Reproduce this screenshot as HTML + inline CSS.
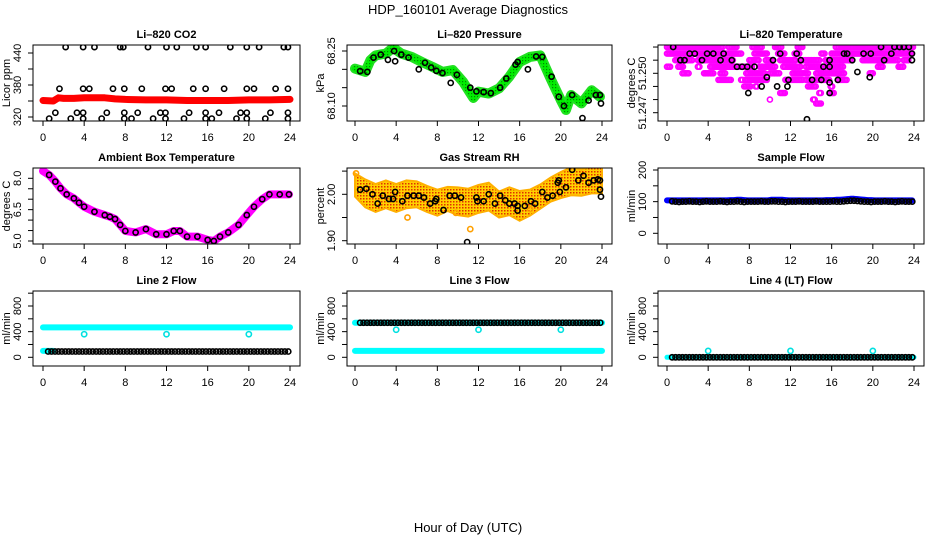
<!DOCTYPE html>
<html><head><meta charset="utf-8"><style>
html,body{margin:0;padding:0;background:#fff;}
svg{display:block;font-family:"Liberation Sans",sans-serif;}
</style></head><body>
<svg id="c" width="936" height="540" viewBox="0 0 936 540">
<defs>
<pattern id="rhpat" width="3" height="3" patternUnits="userSpaceOnUse">
<rect width="3" height="3" fill="#ffd000"/><rect x="0" y="0" width="1.5" height="1.5" fill="#e03000"/>
</pattern>
<pattern id="grpat" width="3" height="3" patternUnits="userSpaceOnUse">
<rect width="3" height="3" fill="#00ee00"/><rect x="0" y="0" width="1.2" height="1.2" fill="#008800"/>
</pattern>
</defs>
<text x="468" y="14" text-anchor="middle" font-size="13">HDP_160101  Average Diagnostics</text>
<text x="468" y="532" text-anchor="middle" font-size="13">Hour of Day (UTC)</text>
</svg>
<script>
// ---------- data ----------
const xTicks=[0,4,8,12,16,20,24];
// CO2
const co2BandHours=[0,1,1.5,2,3,4,5,6,7,8,10,12,14,16,18,20,22,24];
const co2BandVals=[351,350,356,355,355,356,356,356,354,353,352,352,351,351,351,352,352,353];
const co2Hi=[2.2,3.9,5,7.5,7.8,10.2,12,13,14.9,15.8,18.2,19.8,21,23.4,23.8];
const co2Mid=[1.6,3.9,4.5,6.8,7.9,9.6,11.9,12.5,14.6,15.8,17.6,19.8,20.5,22.6,23.8];
const co2Lo=[1.2,3.3,3.9,6.2,7.9,9.2,11.4,11.9,14.2,15.8,17.1,19.2,19.8,22.1,23.8];
const co2Lo2=[0.6,2.7,3.9,5.7,7.9,8.6,10.7,11.9,13.7,15.8,16.4,18.8,19.8,21.6,23.8];
const co2HiVal=451, co2MidVal=373, co2LoVal=328, co2Lo2Val=317;
// Pressure
const presHours=[0,1,1.5,2,3,3.7,4.5,5.5,6.5,7.5,8.5,9.5,10.5,11.5,12,13,14,15,16,17,18,19,20,20.5,21,22,23,23.8];
const presVals=[68.202,68.193,68.225,68.238,68.243,68.259,68.243,68.234,68.220,68.207,68.193,68.198,68.166,68.122,68.139,68.134,68.148,68.180,68.220,68.234,68.238,68.175,68.116,68.089,68.130,68.107,68.143,68.125];
const presBlkH=[0.5,1.2,1.8,2.5,3.2,3.8,3.9,4.5,5.2,6.2,6.8,7.4,7.9,8.5,9.3,9.9,11.2,11.8,12.5,13.2,14.1,14.7,15.6,15.8,16.8,17.6,18.2,19.1,19.8,20.3,21.1,22.1,22.7,23.4,23.8,23.9];
const presBlkV=[68.195,68.193,68.232,68.240,68.226,68.250,68.222,68.240,68.232,68.200,68.218,68.205,68.196,68.190,68.163,68.185,68.150,68.140,68.138,68.135,68.150,68.175,68.213,68.220,68.200,68.235,68.234,68.180,68.125,68.100,68.130,68.067,68.115,68.130,68.130,68.107];
// Temperature: levels and hour ranges
const tempLevels=[51.2520,51.2515,51.2510,51.2505,51.2500,51.2495,51.2490,51.2485,51.2480,51.2477];
const tempRanges=[
 [[0,5.5],[6,6.8],[8.3,9.2],[10.5,11.2],[12.7,13.2],[16.4,24]],
 [[0,7.2],[8.5,9.8],[10.8,11.5],[12.4,12.9],[15,15.4],[16,23.9]],
 [[0.8,2.5],[3,5],[5.5,6.5],[8,9],[9.6,10.2],[11,12.5],[13,14.8],[15.4,18],[19,22.5],[23,23.5]],
 [[0,0.4],[1.1,1.6],[3,3.2],[4.2,8.3],[9,10.5],[11.3,13],[13.5,17.2],[20.5,21],[22.5,23]],
 [[1.5,2.2],[3.6,4.5],[5.2,5.7],[7.7,9.5],[10,11],[12.2,13.8],[14.5,17.3],[19.7,20]],
 [[5,6.3],[7.2,7.4],[7.6,9.7],[11.5,13.2],[13.5,15.8],[16.7,17.5]],
 [[7.5,8.2],[8.6,8.8],[13.7,14.5],[15.9,16.1]],
 [[11,11.5],[14.8,15],[15.9,16.2]],
 [[14.2,14.4],[10,10.1]],
 [[14.5,15]]];
const tempBlkH=[0.6,2.2,2.7,1.3,1.7,3.4,3.9,4.5,5.5,5.2,6.3,6.8,7.3,7.8,8.5,7.9,9.2,10.3,11,9.7,10.7,11.8,11.7,12.6,13,13.6,14.1,15,15.2,15.8,15.8,15.8,15.8,16.6,17.2,17.5,18,18.5,19.7,19.1,19.8,20.8,21.1,21.8,22.1,22.6,23,23.5,23.8,23.8];
const tempBlkV=[51.252,51.2515,51.2515,51.251,51.251,51.251,51.2515,51.2515,51.2515,51.251,51.251,51.2505,51.2505,51.2505,51.2505,51.2485,51.249,51.251,51.2515,51.2497,51.249,51.2495,51.249,51.2515,51.251,51.2465,51.2495,51.2495,51.2505,51.2505,51.251,51.2493,51.2485,51.2495,51.2515,51.2515,51.251,51.2501,51.2497,51.2515,51.2515,51.252,51.251,51.2515,51.252,51.252,51.252,51.252,51.2515,51.251];
// Ambient box temperature
const ambHours=[0,0.6,1.2,1.7,2.3,3,3.5,4,5,6,6.5,7,7.5,8,9,10,11,12,12.7,13.3,14,15,16,16.6,17.2,18,19,19.8,20.5,21.3,22,23,23.9];
const ambVals=[8.35,8.16,7.84,7.52,7.23,7.04,6.83,6.64,6.40,6.24,6.16,6.05,5.77,5.48,5.41,5.57,5.32,5.32,5.48,5.48,5.21,5.21,5.05,5.00,5.21,5.41,5.77,6.24,6.64,7.00,7.23,7.23,7.23];
// Gas stream RH
const rhHours=[0,1,2,3,4,5,6,7,8,9,10,11,12,13,14,15,16,17,18,19,20,21,22,23,24];
const rhCenter=[2.020,2.002,1.992,2.000,1.992,2.000,2.000,1.990,1.982,1.990,1.985,1.982,1.990,1.995,1.978,1.985,1.975,1.982,1.995,2.010,2.020,2.028,2.025,2.032,2.030];
const rhHalf=[0.025,0.030,0.030,0.030,0.030,0.030,0.028,0.028,0.028,0.026,0.030,0.030,0.030,0.030,0.028,0.030,0.032,0.028,0.026,0.026,0.028,0.030,0.028,0.030,0.028];
const rhBlkH=[0.5,1.1,1.7,2.2,2.7,3.3,3.7,3.9,4.6,5.1,5.7,6.2,6.7,7.3,7.8,7.9,8.6,9.2,9.7,10.3,10.9,11.8,11.9,12.5,13,13.6,14.1,14.6,15,15.5,15.8,15.8,16.5,17.1,17.5,18.2,18.7,19.2,19.7,19.8,19.9,20.5,21.1,21.7,22.2,22.7,23.2,23.6,23.8,23.8,23.9];
const rhBlkV=[2.010,2.012,2.000,1.980,1.997,1.990,1.990,2.005,1.985,1.997,1.997,1.997,1.993,1.980,1.985,1.990,1.966,1.997,1.997,1.993,1.897,1.993,1.985,1.985,2.000,1.980,1.997,1.987,1.980,1.980,1.965,1.975,1.975,1.985,1.980,2.005,1.993,1.997,2.025,2.030,2.005,2.015,2.053,2.030,2.040,2.025,2.030,2.032,2.030,2.010,1.995];
const rhOutH=[5.1,11.2,17,9.8,0.1];
const rhOutV=[1.950,1.925,1.968,1.960,2.045];
// Flows (circles every ~1/3 hour)
const flowHours=[0.5,0.83,1.17,1.5,1.83,2.17,2.5,2.83,3.17,3.5,3.83,4.17,4.5,4.83,5.17,5.5,5.83,6.17,6.5,6.83,7.17,7.5,7.83,8.17,8.5,8.83,9.17,9.5,9.83,10.17,10.5,10.83,11.17,11.5,11.83,12.17,12.5,12.83,13.17,13.5,13.83,14.17,14.5,14.83,15.17,15.5,15.83,16.17,16.5,16.83,17.17,17.5,17.83,18.17,18.5,18.83,19.17,19.5,19.83,20.17,20.5,20.83,21.17,21.5,21.83,22.17,22.5,22.83,23.17,23.5,23.83];
const sampleBand=[104,104,104,104,104,104,104,104,104,104,104,104,104,104,104,104,104,105,105,106,106,105,104,104,104,104,104,104,104,106,106,106,106,105,104,104,104,104,104,104,104,104,104,104,104,105,105,105,106,106,107,108,109,109,108,107,106,105,105,104,104,104,104,104,104,104,104,104,104,104,104];
const sampleBlk=[101,100,99,100,100,101,100,100,99,100,101,100,100,100,101,100,99,100,100,101,100,99,100,100,100,100,101,100,100,101,101,100,100,99,100,100,100,101,100,100,100,100,101,100,100,100,100,101,100,100,101,102,103,103,102,101,100,100,99,100,100,100,101,100,100,99,100,101,100,100,100];
const line2Band=466, line2BandLow=100, line2Blk=90, line2Out=[4,12,20], line2OutVal=360;
const line3Band=100, line3Blk=539, line3Out=[4,12,20], line3OutVal=430;
const line4Blk=0, line4Out=[4,12,20], line4OutVal=100;

// ---------- helpers ----------
const svg=document.getElementById('c');
const NS='http://www.w3.org/2000/svg';
function mk(tag,attrs,parent){const e=document.createElementNS(NS,tag);for(const k in attrs)e.setAttribute(k,attrs[k]);(parent||svg).appendChild(e);return e;}
function makePanel(name,title,box,x0,x1,v0,y0,v1,y1,yticks,ylabels,ytitle){
  const g=mk('g',{});
  
  
  const P={g,box,sx:h=>x0+(x1-x0)*h/24,sy:v=>y0+(y1-y0)*(v-v0)/(v1-v0)};
  const cl=mk('clipPath',{id:'clip-'+name},g);
  mk('rect',{x:box[0],y:box[1],width:box[2]-box[0],height:box[3]-box[1]},cl);
  P.plot=mk('g',{'clip-path':'url(#clip-'+name+')'},g);
  
  
  const fr=mk('rect',{x:box[0],y:box[1],width:box[2]-box[0],height:box[3]-box[1],fill:'none',stroke:'#000','stroke-width':1},g);
  
  
  const t=mk('text',{x:(box[0]+box[2])/2,y:box[1]-7,'text-anchor':'middle','font-size':11,'font-weight':'bold'},g);
  t.textContent=title;
  
  
  const xa=mk('g',{},g);
  
  
  xTicks.forEach(h=>{const x=P.sx(h);
    mk('line',{x1:x,x2:x,y1:box[3],y2:box[3]+5,stroke:'#000'},xa);
    const l=mk('text',{x:x,y:box[3]+20,'text-anchor':'middle','font-size':11},xa);l.textContent=h;
    
    });
  const ya=mk('g',{},g);
  
  
  yticks.forEach((v,i)=>{const y=P.sy(v);
    mk('line',{x1:box[0]-5,x2:box[0],y1:y,y2:y,stroke:'#000'},ya);
    if(ylabels[i]!==''){const l=mk('text',{x:0,y:0,transform:'translate('+(box[0]-12)+','+y+') rotate(-90)','text-anchor':'middle','font-size':11},ya);l.textContent=ylabels[i];
    
    }});
  const yt=mk('text',{x:0,y:0,transform:'translate('+(box[0]-23)+','+((box[1]+box[3])/2)+') rotate(-90)','text-anchor':'middle','font-size':11},g);
  yt.textContent=ytitle;
  
  
  return P;
}
function circ(P,h,v,col,nm,r){const c=mk('circle',{cx:P.sx(h),cy:P.sy(v),r:r||2.6,fill:'none',stroke:col,'stroke-width':1.6},P.plot);
  
  return c;}
function band(P,hs,vs,col,w,nm){const pts=hs.map((h,i)=>P.sx(h)+','+P.sy(vs[i])).join(' ');
  const p=mk('polyline',{points:pts,fill:'none',stroke:col,'stroke-width':w,'stroke-linejoin':'round','stroke-linecap':'round'},P.plot);
  
  return p;}
function hband(P,h0,h1,v,col,w,nm){const p=mk('line',{x1:P.sx(h0),x2:P.sx(h1),y1:P.sy(v),y2:P.sy(v),stroke:col,'stroke-width':w,'stroke-linecap':'round'},P.plot);
  
  return p;}

const R1=[45,121],R2=[168,244],R3=[291,366];
const C1=[33,300,43,290],C2=[347,612,355,602],C3=[658,924,667,914];

// ---- CO2 ----
let P=makePanel('co2-panel','Li\u2013820 CO2',[C1[0],R1[0],C1[1],R1[1]],C1[2],C1[3],320,117,440,53,[320,350,380,410,440],['320','','380','','440'],'Licor ppm');
band(P,co2BandHours,co2BandVals,'#ff0000',7,'co2-red-series');
co2Hi.forEach(h=>circ(P,h,co2HiVal,'#000','co2-point'));
co2Mid.forEach(h=>circ(P,h,co2MidVal,'#000','co2-point'));
co2Lo.forEach(h=>circ(P,h,co2LoVal,'#000','co2-point'));
co2Lo2.forEach(h=>circ(P,h,co2Lo2Val,'#000','co2-point'));
// ---- Pressure ----
P=makePanel('pressure-panel','Li\u2013820 Pressure',[C2[0],R1[0],C2[1],R1[1]],C2[2],C2[3],68.10,106,68.25,51,[68.10,68.15,68.20,68.25],['68.10','','','68.25'],'kPa');
band(P,presHours,presVals,'#22e022',10,'pressure-green-series');
band(P,presHours,presVals,'url(#grpat)',6,'pressure-green-texture');
presBlkH.forEach((h,i)=>circ(P,h,presBlkV[i],'#000','pressure-point'));
// ---- Temperature ----
P=makePanel('temperature-panel','Li\u2013820 Temperature',[C3[0],R1[0],C3[1],R1[1]],C3[2],C3[3],51.247,112.7,51.250,73.3,[51.247,51.248,51.249,51.250,51.251,51.252],['51.247','','','51.250','',''],'degrees C');
tempLevels.forEach((lv,i)=>tempRanges[i].forEach(r=>{
  for(let h=r[0];h<=r[1]+1e-9;h+=0.15){circ(P,h,lv,'#ff00ff','temperature-magenta-point',2.5);}
}));
tempBlkH.forEach((h,i)=>circ(P,h,tempBlkV[i],'#000','temperature-point'));
// ---- Ambient ----
P=makePanel('ambient-panel','Ambient Box Temperature',[C1[0],R2[0],C1[1],R2[1]],C1[2],C1[3],5.0,241,8.0,178.3,[5.0,5.5,6.0,6.5,7.0,7.5,8.0],['5.0','','','6.5','','','8.0'],'degrees C');
band(P,ambHours,ambVals,'#ff00ff',8,'ambient-magenta-series');
ambHours.forEach((h,i)=>{if(i>0)circ(P,h,ambVals[i],'#000','ambient-point');});
// ---- RH ----
P=makePanel('rh-panel','Gas Stream RH',[C2[0],R2[0],C2[1],R2[1]],C2[2],C2[3],1.90,240.7,2.00,194.3,[1.90,1.95,2.00,2.05],['1.90','','2.00',''],'percent');
{const up=rhHours.map((h,i)=>P.sx(h)+','+P.sy(rhCenter[i]+rhHalf[i]));
 const dn=rhHours.map((h,i)=>P.sx(h)+','+P.sy(rhCenter[i]-rhHalf[i])).reverse();
 const pg=mk('polygon',{points:up.concat(dn).join(' '),fill:'url(#rhpat)',stroke:'#ffb000','stroke-width':2},P.plot);
 
 }
rhOutH.forEach((h,i)=>circ(P,h,rhOutV[i],'#ffa000','rh-outlier'));
rhBlkH.forEach((h,i)=>circ(P,h,rhBlkV[i],'#000','rh-point'));
// ---- Sample flow ----
P=makePanel('sample-flow-panel','Sample Flow',[C3[0],R2[0],C3[1],R2[1]],C3[2],C3[3],0,233.3,200,170,[0,50,100,150,200],['0','','100','','200'],'ml/min');
band(P,[0].concat(flowHours),[104].concat(sampleBand),'#0000ff',6,'sample-flow-blue-series');
flowHours.forEach((h,i)=>circ(P,h,sampleBlk[i],'#000','sample-flow-point'));
// ---- Line 2 ----
const fT=[0,200,400,600,800,1000],fL=['0','','400','','800',''];
P=makePanel('line2-flow-panel','Line 2 Flow',[C1[0],R3[0],C1[1],R3[1]],C1[2],C1[3],0,357.3,800,306,fT,fL,'ml/min');
hband(P,0,24,line2Band,'#00ffff',6,'line2-cyan-series');
hband(P,0,1,line2BandLow,'#00ffff',6,'line2-cyan-low');
line2Out.forEach(h=>circ(P,h,line2OutVal,'#00e0e0','line2-outlier'));
flowHours.forEach(h=>circ(P,h,line2Blk,'#000','line2-point'));
// ---- Line 3 ----
P=makePanel('line3-flow-panel','Line 3 Flow',[C2[0],R3[0],C2[1],R3[1]],C2[2],C2[3],0,357.3,800,306,fT,fL,'ml/min');
hband(P,0,24,line3Band,'#00ffff',6,'line3-cyan-series');
hband(P,0,24,line3Blk,'#00ffff',6,'line3-cyan-high');
line3Out.forEach(h=>circ(P,h,line3OutVal,'#00e0e0','line3-outlier'));
flowHours.forEach(h=>circ(P,h,line3Blk,'#000','line3-point'));
// ---- Line 4 ----
P=makePanel('line4-flow-panel','Line 4 (LT) Flow',[C3[0],R3[0],C3[1],R3[1]],C3[2],C3[3],0,357.3,800,306,fT,fL,'ml/min');
hband(P,0,24,line4Blk,'#00ffff',5,'line4-cyan-series');
line4Out.forEach(h=>circ(P,h,line4OutVal,'#00e0e0','line4-outlier'));
flowHours.forEach(h=>circ(P,h,line4Blk,'#000','line4-point'));
</script>
</body></html>
